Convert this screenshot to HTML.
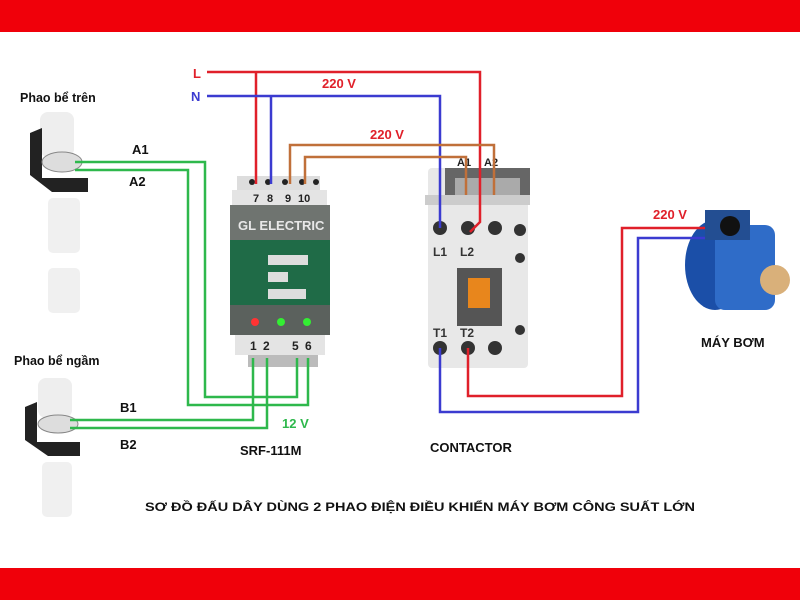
<!DOCTYPE html>
<html><head><meta charset="utf-8"><style>
body{margin:0;width:800px;height:600px;overflow:hidden;background:#fff}
svg{display:block}
text{font-family:"Liberation Sans",sans-serif;font-weight:bold}
</style></head><body>
<svg width="800" height="600" viewBox="0 0 800 600">
<rect x="0" y="0" width="800" height="32" fill="#f0000a"/>
<rect x="0" y="568" width="800" height="32" fill="#f0000a"/>

<!-- floats -->
<g>
<rect x="40" y="112" width="34" height="45" rx="8" fill="#eee"/>
<path d="M30 133 L42 128 L42 178 L88 178 L88 192 L52 192 L30 175 Z" fill="#222"/>
<ellipse cx="62" cy="162" rx="20" ry="10" fill="#ddd" stroke="#888"/>
<rect x="48" y="198" width="32" height="55" rx="5" fill="#f0f0f0"/>
<rect x="48" y="268" width="32" height="45" rx="5" fill="#f0f0f0"/>
</g>
<g>
<rect x="38" y="378" width="34" height="40" rx="8" fill="#eee"/>
<path d="M25 407 L37 402 L37 442 L80 442 L80 456 L48 456 L25 440 Z" fill="#222"/>
<ellipse cx="58" cy="424" rx="20" ry="9" fill="#ddd" stroke="#888"/>
<rect x="42" y="462" width="30" height="55" rx="5" fill="#f0f0f0"/>
</g>
<text x="20" y="102" font-size="12.5" fill="#111">Phao bể trên</text>
<text x="14" y="365" font-size="12.5" fill="#111">Phao bể ngầm</text>
<text x="132" y="154" font-size="13" fill="#111">A1</text>
<text x="129" y="186" font-size="13" fill="#111">A2</text>
<text x="120" y="412" font-size="13" fill="#111">B1</text>
<text x="120" y="449" font-size="13" fill="#111">B2</text>

<!-- relay -->
<rect x="237" y="176" width="83" height="20" fill="#ddd"/>
<rect x="232" y="190" width="95" height="18" fill="#e4e4e4"/>
<rect x="230" y="205" width="100" height="35" fill="#6f7470"/>
<text x="238" y="230" font-size="13" fill="#e8e8e8">GL ELECTRIC</text>
<rect x="230" y="240" width="100" height="70" fill="#1f6b47"/>
<rect x="268" y="255" width="40" height="10" fill="#ddd"/>
<rect x="268" y="272" width="20" height="10" fill="#ddd"/>
<rect x="268" y="289" width="38" height="10" fill="#ddd"/>
<rect x="230" y="305" width="100" height="30" fill="#5b615d"/>
<circle cx="255" cy="322" r="4" fill="#f33"/>
<circle cx="281" cy="322" r="4" fill="#3e3"/>
<circle cx="307" cy="322" r="4" fill="#3e3"/>
<rect x="235" y="335" width="90" height="20" fill="#e4e4e4"/>
<rect x="248" y="355" width="70" height="12" fill="#bbb"/>
<g font-size="11" fill="#222" font-weight="normal">
<text x="253" y="202">7</text><text x="267" y="202">8</text><text x="285" y="202">9</text><text x="298" y="202">10</text></g>
<g font-size="12" fill="#222"><text x="250" y="350">1</text><text x="263" y="350">2</text><text x="292" y="350">5</text><text x="305" y="350">6</text></g>
<g fill="#222"><circle cx="252" cy="182" r="3"/><circle cx="268" cy="182" r="3"/><circle cx="285" cy="182" r="3"/><circle cx="302" cy="182" r="3"/><circle cx="316" cy="182" r="3"/></g>

<!-- contactor -->
<rect x="428" y="168" width="100" height="200" rx="4" fill="#e8e8e8"/>
<rect x="445" y="168" width="85" height="30" fill="#666"/>
<rect x="455" y="178" width="65" height="20" fill="#aaa"/>
<rect x="425" y="195" width="105" height="10" fill="#ccc"/>
<g fill="#333"><circle cx="440" cy="228" r="7"/><circle cx="468" cy="228" r="7"/><circle cx="495" cy="228" r="7"/><circle cx="520" cy="230" r="6"/><circle cx="520" cy="258" r="5"/>
<circle cx="440" cy="348" r="7"/><circle cx="468" cy="348" r="7"/><circle cx="495" cy="348" r="7"/><circle cx="520" cy="330" r="5"/></g>
<rect x="457" y="268" width="45" height="58" fill="#555"/>
<rect x="468" y="278" width="22" height="30" fill="#e8861c"/>
<g font-size="12" fill="#333"><text x="433" y="256">L1</text><text x="460" y="256">L2</text><text x="433" y="337">T1</text><text x="460" y="337">T2</text></g>
<text x="457" y="166" font-size="11" fill="#222">A1</text>
<text x="484" y="166" font-size="11" fill="#222">A2</text>

<!-- pump -->
<ellipse cx="715" cy="265" rx="30" ry="45" fill="#1b4fa8"/>
<rect x="715" y="225" width="60" height="85" rx="10" fill="#2f6cc8"/>
<rect x="705" y="210" width="45" height="30" fill="#234e92"/>
<circle cx="730" cy="226" r="10" fill="#111"/>
<circle cx="775" cy="280" r="15" fill="#d9b07a"/>
<text x="701" y="347" font-size="13" fill="#111">MÁY BƠM</text>

<!-- wires -->
<g fill="none" stroke-width="2.5">
<path d="M207 72H480V222L470 232M256 72V184" stroke="#e0202a"/>
<path d="M207 96H440V228M271 96V184" stroke="#3b3bd0"/>
<path d="M290 184V145H494V195M305 184V157H466V195" stroke="#c0703a"/>
<path d="M468 348V396H622V228H705" stroke="#e0202a"/>
<path d="M440 348V412H638V238H705" stroke="#3b3bd0"/>
<path d="M75 162H205V397H297V358M75 170H188V405H308V358" stroke="#2eb84c"/>
<path d="M70 420H253V358M70 428H267V358" stroke="#2eb84c"/>
</g>
<text x="193" y="78" font-size="13" fill="#e0202a">L</text>
<text x="191" y="101" font-size="13" fill="#3b3bd0">N</text>
<text x="322" y="88" font-size="13" fill="#e0202a">220 V</text>
<text x="370" y="139" font-size="13" fill="#e0202a">220 V</text>
<text x="653" y="219" font-size="13" fill="#e0202a">220 V</text>
<text x="282" y="428" font-size="13" fill="#2eb84c">12 V</text>
<text x="240" y="455" font-size="13" fill="#111">SRF-111M</text>
<text x="430" y="452" font-size="13" fill="#111">CONTACTOR</text>
<text x="145" y="511" font-size="11.5" fill="#111" textLength="550" lengthAdjust="spacingAndGlyphs">SƠ ĐỒ ĐẤU DÂY DÙNG 2 PHAO ĐIỆN ĐIỀU KHIỂN MÁY BƠM CÔNG SUẤT LỚN</text>
</svg>
</body></html>
